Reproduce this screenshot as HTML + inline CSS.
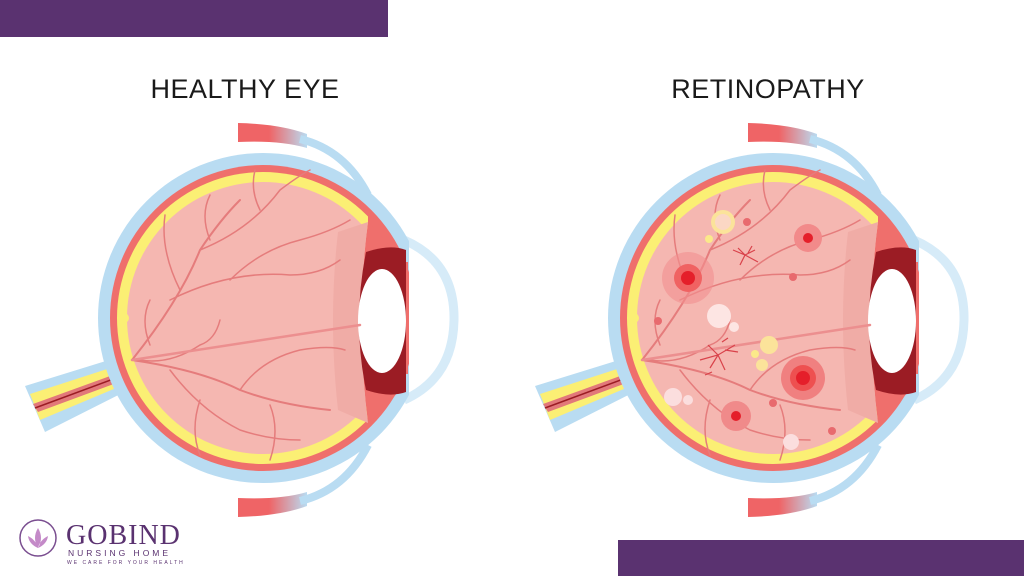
<!DOCTYPE html>
<html><head><meta charset="utf-8"><style>
html,body{margin:0;padding:0;background:#fff;}
body{width:1024px;height:576px;overflow:hidden;position:relative;font-family:"Liberation Sans",sans-serif;}
.bar{position:absolute;background:#5a3270;}
.t{position:absolute;top:74px;font-size:27px;color:#1a1a1a;letter-spacing:0.5px;text-align:center;width:300px;}
</style></head><body>
<div class="bar" style="left:0;top:0;width:388px;height:37px"></div>
<div class="bar" style="left:618px;top:540px;width:406px;height:36px"></div>
<div class="t" style="left:95px">HEALTHY EYE</div>
<div class="t" style="left:618px">RETINOPATHY</div>
<svg width="1024" height="576" style="position:absolute;left:0;top:0">
<defs>
<linearGradient id="lid" x1="0" x2="1"><stop offset="0.45" stop-color="#ef6466"/><stop offset="1" stop-color="#b9dcf2"/></linearGradient>
<clipPath id="inner"><rect x="0" y="0" width="368" height="600"/></clipPath>
<clipPath id="scl"><rect x="0" y="0" width="409" height="600"/></clipPath>
<g id="eye">
 <path d="M238,123 Q280,124 307,134 L307,148 Q280,140 238,142Z" fill="url(#lid)"/>
 <path d="M238,517 Q280,516 307,506 L307,492 Q280,500 238,498Z" fill="url(#lid)"/>
 <path d="M300,139 Q345,150 368,195" stroke="#b9dcf2" stroke-width="8" fill="none"/>
 <path d="M300,501 Q345,490 368,445" stroke="#b9dcf2" stroke-width="8" fill="none"/>
 <path d="M404,240 Q455,262 454,320 Q453,378 404,400" stroke="#d6ebf8" stroke-width="9" fill="none"/>
 <path d="M25,386 L135,352 L142,383 L45,432Z" fill="#b9dcf2"/>
 <path d="M30,394 L135,360 L140,378 L40,420Z" fill="#fbef74"/>
 <path d="M33,404 L135,367 L138,375 L38,412Z" fill="#e2787a"/>
 <path d="M35,408 L135,371" stroke="#9b1c24" stroke-width="1.5"/>
 <g clip-path="url(#scl)">
 <circle cx="263" cy="318" r="165" fill="#b9dcf2"/>
 <circle cx="263" cy="318" r="153" fill="#ef6f6c"/>
 <rect x="398" y="262" width="10" height="112" fill="#ef6f6c"/>
 </g>
 <g clip-path="url(#inner)">
  <circle cx="263" cy="318" r="146" fill="#fbef74"/>
  <circle cx="263" cy="318" r="136" fill="#f5b7b1"/>
 </g>
 <path d="M368,222 Q395,250 405,270 L405,380 Q395,400 368,423 Q355,320 368,222Z" fill="#ef6f6c"/>
 <path d="M338,232 Q328,320 338,410 L368,423 Q355,320 368,222Z" fill="#f0aca6"/>
 <path d="M366,252 Q390,244 406,250 L406,392 Q390,398 366,390 Q352,322 366,252Z" fill="#9b1c24"/>
 <ellipse cx="382" cy="321" rx="24" ry="52" fill="#fff"/>
 <circle cx="124" cy="318" r="5" fill="#fbef74"/>
 <g stroke="#e57c7c" fill="none" stroke-width="1.5" stroke-linecap="round">
  <path d="M132,360 Q180,300 200,250 Q220,220 240,200" stroke-width="2"/>
  <path d="M200,250 Q250,230 280,190 Q300,175 310,170"/>
  <path d="M170,300 Q230,270 290,275 Q320,275 340,260"/>
  <path d="M230,280 Q260,250 300,240 Q330,232 350,220"/>
  <path d="M180,290 Q160,250 165,215"/>
  <path d="M210,240 Q200,215 210,195"/>
  <path d="M260,210 Q250,190 255,170"/>
  <path d="M132,360 Q200,370 240,390 Q280,405 330,410" stroke-width="2"/>
  <path d="M170,370 Q200,410 240,430 Q270,440 300,440"/>
  <path d="M240,390 Q260,360 300,350 Q330,345 345,350"/>
  <path d="M200,400 Q190,430 200,455"/>
  <path d="M270,405 Q280,430 270,460"/>
  <path d="M140,360 Q170,365 200,345 Q215,340 220,320"/>
  <path d="M150,345 Q140,320 150,300"/>
  <path d="M132,360 L360,325" stroke="#ec8f8f" stroke-width="2.5"/>
 </g>
</g>
</defs>
<use href="#eye"/>
<use href="#eye" x="510"/>
<g>
 <circle cx="688" cy="278" r="26" fill="#f29090" opacity="0.6"/><circle cx="688" cy="278" r="14" fill="#f06262"/><circle cx="688" cy="278" r="7" fill="#e51f2a"/>
 <circle cx="808" cy="238" r="14" fill="#f28a8a"/><circle cx="808" cy="238" r="5" fill="#e51f2a"/>
 <circle cx="803" cy="378" r="22" fill="#f08080"/><circle cx="803" cy="378" r="13" fill="#ee5050"/><circle cx="803" cy="378" r="7" fill="#e51f2a"/>
 <circle cx="736" cy="416" r="15" fill="#f08a8a"/><circle cx="736" cy="416" r="5" fill="#e51f2a"/>
 <g fill="#e86a6e"><circle cx="747" cy="222" r="4"/><circle cx="793" cy="277" r="4"/><circle cx="658" cy="321" r="4"/><circle cx="773" cy="403" r="4"/><circle cx="832" cy="431" r="4"/></g>
 <circle cx="723" cy="222" r="12" fill="#fbe39a"/><circle cx="723" cy="222" r="8" fill="#fbd7c4"/>
 <circle cx="709" cy="239" r="4" fill="#fbe98a"/>
 <circle cx="719" cy="316" r="12" fill="#fde5e3"/><circle cx="734" cy="327" r="5" fill="#fde5e3"/>
 <circle cx="769" cy="345" r="9" fill="#fbe39a"/><circle cx="755" cy="354" r="4" fill="#fbe98a"/><circle cx="762" cy="365" r="6" fill="#fbe39a"/>
 <circle cx="673" cy="397" r="9" fill="#fbdede"/><circle cx="688" cy="400" r="5" fill="#fbdede"/>
 <circle cx="791" cy="442" r="8" fill="#fbdede"/>
 <g stroke="#d9424a" stroke-width="1.2" fill="none">
  <path d="M733,250 L745,255 L755,250 M745,255 L740,265 M745,255 L758,262 M738,248 L745,255 M752,246 L748,253"/>
  <path d="M700,360 L718,355 L735,345 M718,355 L710,368 M718,355 L725,370 M708,345 L718,355 M725,350 L738,352 M712,372 L705,375 M722,342 L728,338"/>
 </g>
</g>
<g transform="translate(38,538)">
 <circle r="18" fill="none" stroke="#7a4e90" stroke-width="1.5"/>
 <path d="M0,-10 Q6,0 0,10 Q-6,0 0,-10Z M-10,-2 Q-2,2 0,10 Q-9,6 -10,-2Z M10,-2 Q2,2 0,10 Q9,6 10,-2Z" fill="#c48ac8"/>
</g>
<text x="66" y="544" font-family="Liberation Serif,serif" font-size="28" fill="#5a3270" letter-spacing="1">GOBIND</text>
<text x="68" y="556" font-family="Liberation Sans,sans-serif" font-size="8.5" fill="#5a3270" letter-spacing="3">NURSING HOME</text>
<text x="67" y="564" font-family="Liberation Sans,sans-serif" font-size="5" fill="#5a3270" letter-spacing="2">WE CARE FOR YOUR HEALTH</text>
</svg>
</body></html>
